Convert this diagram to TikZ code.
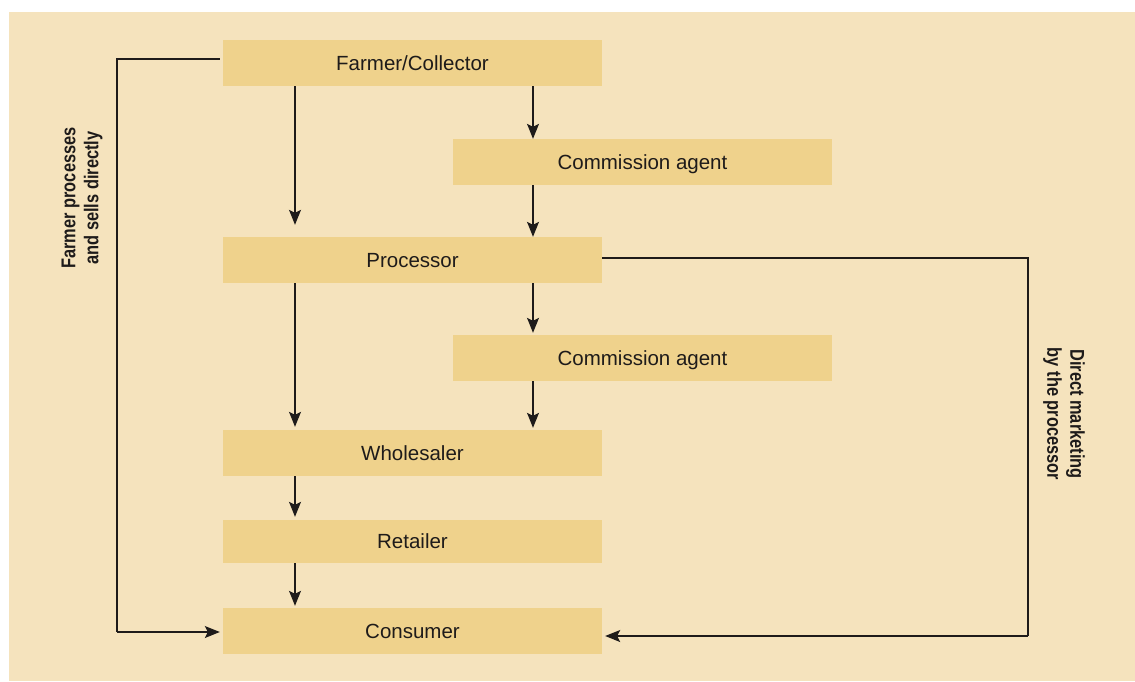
\documentclass[tikz,border=0pt]{standalone}
\usepackage{fontspec}
\setmainfont{Liberation Sans}
\newfontfamily\condfont[FakeStretch=0.82]{Liberation Sans}
\usetikzlibrary{arrows.meta,calc}
\definecolor{bgbeige}{HTML}{F5E3BD}
\definecolor{boxfill}{HTML}{EFD28C}
\definecolor{ink}{HTML}{1E1B1A}
\tikzset{
  flowbox/.style={fill=boxfill, draw=none, inner sep=0pt, minimum width=379pt, minimum height=46pt, font=\fontsize{20.5}{23}\selectfont, text=ink, text height=17pt, text depth=2.5pt},
  arr/.style={draw=ink, line width=1.1pt, -{Stealth[length=15pt,width=12pt,inset=3pt]}},
  plainline/.style={draw=ink, line width=1.1pt},
  sidelabel/.style={font=\condfont\bfseries\fontsize{20}{23}\selectfont, text=ink, align=center, inner sep=0pt}
}
\begin{document}
\begin{tikzpicture}[x=1pt,y=-1pt]
\useasboundingbox (0,0) rectangle (1135,681);
\fill[bgbeige] (9,12) rectangle (1135,681);
\node[flowbox] (farmer) at (412.5,63) {Farmer/Collector};
\node[flowbox] (ca1) at (642.5,162) {Commission agent};
\node[flowbox] (proc) at (412.5,260) {Processor};
\node[flowbox] (ca2) at (642.5,358) {Commission agent};
\node[flowbox] (whole) at (412.5,453) {Wholesaler};
\node[flowbox, minimum height=43pt] (retail) at (412.5,541.5) {Retailer};
\node[flowbox] (cons) at (412.5,631) {Consumer};
\coordinate (xL) at (295,0);
\coordinate (xR) at (533,0);
\draw[arr, shorten >=12pt] (farmer.south -| xL) -- (proc.north -| xL);
\draw[arr] (farmer.south -| xR) -- (ca1.north -| xR);
\draw[arr] (ca1.south -| xR) -- (proc.north -| xR);
\draw[arr, shorten >=2pt] (proc.south -| xR) -- (ca2.north -| xR);
\draw[arr, shorten >=2pt] (ca2.south -| xR) -- (whole.north -| xR);
\draw[arr, shorten >=3pt] (proc.south -| xL) -- (whole.north -| xL);
\draw[arr, shorten >=3pt] (whole.south -| xL) -- (retail.north -| xL);
\draw[arr, shorten >=2pt] (retail.south -| xL) -- (cons.north -| xL);
\coordinate (lt) at (117,59);
\coordinate (lb) at (117,632);
\coordinate (rt) at (1028,258);
\coordinate (rb) at (1028,636);
\draw[plainline] ($(farmer.west)+(-3,-4)$) -- (lt) -- (lb);
\draw[arr, shorten >=3pt] (lb) -- (cons.west |- lb);
\draw[plainline] (proc.east |- rt) -- (rt) -- (rb);
\draw[arr, shorten >=3pt] (rb) -- (cons.east |- rb);
\node[sidelabel, rotate=90] (lefttext) at (82,198) {Farmer processes\\and sells directly};
\node[sidelabel, rotate=-90] (righttext) at (1064,414) {Direct marketing\\by the processor};
\end{tikzpicture}
\end{document}
